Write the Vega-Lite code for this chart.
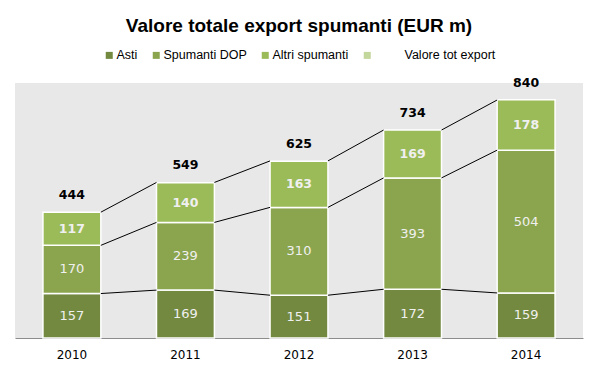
{
  "$schema": "https://vega.github.io/schema/vega-lite/v6.json",
  "width": 568,
  "height": 255,
  "autosize": {"type": "none"},
  "padding": {"left": 15, "top": 83, "right": 15, "bottom": 34},
  "background": "#ffffff",
  "title": {
    "text": "Valore totale export spumanti (EUR m)",
    "font": "Liberation Sans",
    "fontSize": 19,
    "fontWeight": "bold",
    "color": "#000000",
    "anchor": "middle",
    "frame": "group",
    "offset": 13
  },
  "datasets": {
    "bars": [
      {"year": "2010", "cat": "Asti", "k": 1, "value": 157},
      {"year": "2010", "cat": "Spumanti DOP", "k": 2, "value": 170},
      {"year": "2010", "cat": "Altri spumanti", "k": 3, "value": 117},
      {"year": "2011", "cat": "Asti", "k": 1, "value": 169},
      {"year": "2011", "cat": "Spumanti DOP", "k": 2, "value": 239},
      {"year": "2011", "cat": "Altri spumanti", "k": 3, "value": 140},
      {"year": "2012", "cat": "Asti", "k": 1, "value": 151},
      {"year": "2012", "cat": "Spumanti DOP", "k": 2, "value": 310},
      {"year": "2012", "cat": "Altri spumanti", "k": 3, "value": 163},
      {"year": "2013", "cat": "Asti", "k": 1, "value": 172},
      {"year": "2013", "cat": "Spumanti DOP", "k": 2, "value": 393},
      {"year": "2013", "cat": "Altri spumanti", "k": 3, "value": 169},
      {"year": "2014", "cat": "Asti", "k": 1, "value": 159},
      {"year": "2014", "cat": "Spumanti DOP", "k": 2, "value": 504},
      {"year": "2014", "cat": "Altri spumanti", "k": 3, "value": 178}
    ],
    "totals": [
      {"year": "2010", "total": 444},
      {"year": "2011", "total": 549},
      {"year": "2012", "total": 625},
      {"year": "2013", "total": 734},
      {"year": "2014", "total": 840}
    ],
    "links": [
      {"from": "2010", "to": "2011", "a": 157, "b": 169},
      {"from": "2011", "to": "2012", "a": 169, "b": 151},
      {"from": "2012", "to": "2013", "a": 151, "b": 172},
      {"from": "2013", "to": "2014", "a": 172, "b": 159},
      {"from": "2010", "to": "2011", "a": 327, "b": 408},
      {"from": "2011", "to": "2012", "a": 408, "b": 461},
      {"from": "2012", "to": "2013", "a": 461, "b": 565},
      {"from": "2013", "to": "2014", "a": 565, "b": 663},
      {"from": "2010", "to": "2011", "a": 444, "b": 549},
      {"from": "2011", "to": "2012", "a": 549, "b": 625},
      {"from": "2012", "to": "2013", "a": 625, "b": 734},
      {"from": "2013", "to": "2014", "a": 734, "b": 840}
    ]
  },
  "layer": [
    {
      "data": {"name": "bars"},
      "mark": {"type": "bar", "stroke": "#ffffff", "strokeWidth": 1.5},
      "encoding": {
        "x": {
          "field": "year", "type": "ordinal",
          "scale": {"type": "band", "paddingInner": 0.49, "paddingOuter": 0.246},
          "axis": {"title": null}
        },
        "y": {
          "field": "value", "type": "quantitative", "stack": "zero",
          "scale": {"domain": [0, 900], "nice": false}, "axis": null
        },
        "color": {
          "field": "cat", "type": "nominal",
          "scale": {
            "domain": ["Asti", "Spumanti DOP", "Altri spumanti", "Valore tot export"],
            "range": ["#72893f", "#8ba54e", "#9bbb59", "#c3d69b"]
          },
          "legend": {
            "title": null,
            "orient": "none",
            "direction": "horizontal",
            "legendX": 88,
            "legendY": -34,
            "padding": 0,
            "symbolType": "square",
            "symbolSize": 49,
            "symbolStrokeWidth": 0,
            "labelFont": "Liberation Sans",
            "labelFontSize": 12.5,
            "labelColor": "#000000",
            "labelOffset": 1,
            "columnPadding": 12,
            "labelExpr": "datum.label == 'Valore tot export' ? '\u2800\u2800\u2800Valore tot export' : datum.label"
          }
        },
        "order": {"field": "k", "type": "quantitative"}
      }
    },
    {
      "data": {"name": "bars"},
      "mark": {"type": "text", "font": "DejaVu Sans", "fontSize": 13, "color": "#f0f0f0", "baseline": "middle", "align": "center"},
      "encoding": {
        "x": {"field": "year", "type": "ordinal"},
        "y": {"field": "value", "type": "quantitative", "stack": "zero", "bandPosition": 0.5, "axis": null},
        "order": {"field": "k", "type": "quantitative"},
        "detail": {"field": "cat"},
        "text": {"condition": {"test": "datum.cat != 'Altri spumanti'", "field": "value"}, "value": ""}
      }
    },
    {
      "data": {"name": "bars"},
      "mark": {"type": "text", "font": "DejaVu Sans", "fontSize": 12.5, "fontWeight": "bold", "color": "#f0f0f0", "baseline": "middle", "align": "center"},
      "encoding": {
        "x": {"field": "year", "type": "ordinal"},
        "y": {"field": "value", "type": "quantitative", "stack": "zero", "bandPosition": 0.5, "axis": null},
        "order": {"field": "k", "type": "quantitative"},
        "detail": {"field": "cat"},
        "text": {"condition": {"test": "datum.cat == 'Altri spumanti'", "field": "value"}, "value": ""}
      }
    },
    {
      "data": {"name": "links"},
      "mark": {"type": "rule", "color": "#000000", "strokeWidth": 1},
      "encoding": {
        "x": {"field": "from", "type": "ordinal", "bandPosition": 1},
        "x2": {"field": "to", "bandPosition": 0},
        "y": {"field": "a", "type": "quantitative", "axis": null},
        "y2": {"field": "b"}
      }
    },
    {
      "data": {"name": "totals"},
      "mark": {"type": "text", "font": "DejaVu Sans", "fontSize": 12.5, "fontWeight": "bold", "color": "#000000", "baseline": "alphabetic", "align": "center", "dy": -13},
      "encoding": {
        "x": {"field": "year", "type": "ordinal"},
        "y": {"field": "total", "type": "quantitative", "axis": null},
        "text": {"field": "total", "type": "quantitative"}
      }
    }
  ],
  "config": {
    "view": {"fill": "#e8e8e8", "stroke": null},
    "axisX": {
      "domainColor": "#8c8c8c",
      "domainWidth": 1,
      "ticks": false,
      "grid": false,
      "labelFont": "DejaVu Sans",
      "labelFontSize": 12,
      "labelColor": "#000000",
      "labelPadding": 11,
      "labelAngle": 0
    }
  }
}
